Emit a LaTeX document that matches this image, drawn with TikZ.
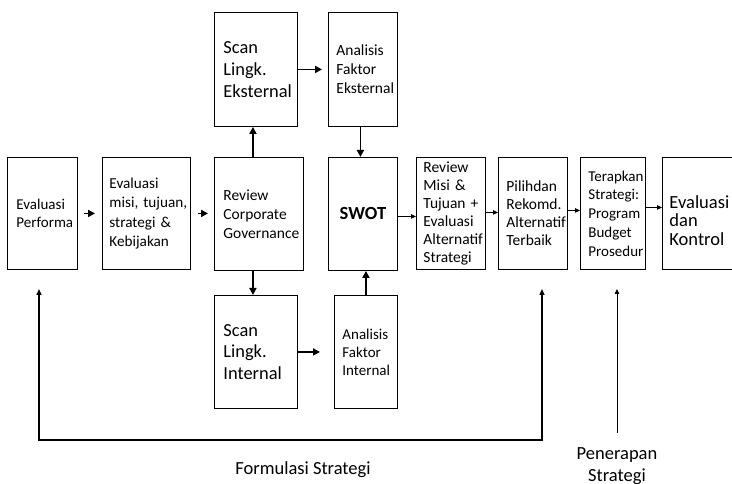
\documentclass[tikz,border=0pt]{standalone}
\usepackage{fontspec}
\setmainfont{Carlito}
\usetikzlibrary{arrows.meta,calc}
\begin{document}
\begin{tikzpicture}[x=1pt,y=-1pt,
  box/.style={draw=black, line width=0.9pt, inner ysep=0pt, align=left,
    anchor=north west,
    execute at begin node={\hyphenpenalty=10000\exhyphenpenalty=10000}},
  thk/.style={line width=1.8pt, -{Triangle[length=7pt,width=7pt]}},
  thn/.style={line width=0.8pt, -{Triangle[length=5pt,width=4.5pt]}},
  fb/.style={line width=1.4pt},
  lbl/.style={font=\fontsize{18.5}{22}\selectfont, align=center}]
\clip (0,0) rectangle (732,484);

% main row of process steps
\node[box, inner xsep=9pt, text width=52pt, minimum height=112pt,
  font=\fontsize{15}{18}\selectfont] (perf) at (7,157) {Evaluasi\\Performa};
\node[box, inner xsep=7pt, text width=74pt, minimum height=112pt,
  font=\fontsize{15.2}{19.5}\selectfont] (evm) at (102,157)
  {Evaluasi\\misi,~tujuan,\\strategi~\&\\Kebijakan};
\node[box, inner xsep=9pt, text width=71pt, minimum height=113pt,
  font=\fontsize{15.5}{19}\selectfont] (rcg) at (214,157)
  {Review\\Corporate\\Governance};
\node[box, inner xsep=0pt, minimum width=69pt, minimum height=113pt, align=center,
  font=\fontsize{18.5}{22}\selectfont\bfseries] (swot) at (328,157) {SWOT};
\node[box, inner xsep=7pt, text width=55pt, minimum height=112pt,
  font=\fontsize{15.5}{18}\selectfont] (rms) at (416,157)
  {Review\\Misi~\&\\Tujuan~+\\Evaluasi\\Alternatif\\Strategi};
\node[box, inner xsep=8pt, text width=53pt, minimum height=112pt,
  font=\fontsize{15.5}{18}\selectfont] (pil) at (498,157)
  {Pilihdan\\Rekomd.\\Alternatif\\Terbaik};
\node[box, inner xsep=8pt, text width=49pt, minimum height=112pt,
  font=\fontsize{15}{18.75}\selectfont] (ter) at (580,157)
  {Terapkan\\Strategi:\\Program\\Budget\\Prosedur};
\node[box, inner xsep=7pt, text width=66pt, minimum height=112pt,
  font=\fontsize{18.5}{18.5}\selectfont] (evk) at (662,157)
  {\rule{0pt}{27pt}Evaluasi\\dan\\Kontrol};

% external branch
\node[box, inner xsep=9pt, text width=65pt, minimum height=114pt,
  font=\fontsize{18.4}{21.7}\selectfont] (scanE) at (214,12)
  {Scan\\Lingk.\\Eksternal};
\node[box, inner xsep=8pt, text width=53pt, minimum height=114pt,
  font=\fontsize{15.5}{19}\selectfont] (anaE) at (328,12)
  {Analisis\\Faktor\\Eksternal};

% internal branch
\node[box, inner xsep=9pt, text width=65pt, minimum height=113pt,
  font=\fontsize{18.4}{21.7}\selectfont] (scanI) at (214,295)
  {Scan\\Lingk.\\Internal};
\node[box, inner xsep=8pt, text width=47pt, minimum height=113pt,
  font=\fontsize{15}{18}\selectfont] (anaI) at (334,295)
  {Analisis\\Faktor\\Internal};

% connectors of the main row
\draw[thk, shorten <=6pt, shorten >=7pt] (perf) -- (evm);
\draw[thk, shorten <=7pt, shorten >=6pt] (evm.east) -- (evm.east -| rcg.west);
\draw[thn] ([yshift=-2.5pt]swot.east) -- ([yshift=-2.5pt]swot.east -| rms.west);
\draw[thn] ([yshift=1pt]rms.east) -- ([yshift=1pt]rms.east -| pil.west);
\draw[thn] ([yshift=3pt]pil.east) -- ([yshift=3pt]pil.east -| ter.west);
\draw[thn] ([yshift=6pt]ter.east) -- ([yshift=6pt]ter.east -| evk.west);

% branch connectors
\draw[thk] ([xshift=-6pt]rcg.north) -- ([xshift=-6pt]rcg.north |- scanE.south);
\draw[thk] ([xshift=-6pt]rcg.south) -- ([xshift=-6pt]rcg.south |- scanI.north);
\draw[thk, shorten >=6pt] (scanE.east) -- (scanE.east -| anaE.west);
\draw[thk, shorten >=14pt] (scanI.east) -- (scanI.east -| anaI.west);
\draw[thk] ([xshift=-2.5pt]anaE.south) -- ([xshift=-2.5pt]anaE.south |- swot.north);
\draw[thk] (anaI.north) -- (anaI.north |- swot.south);

% feedback loop of the formulation phase
\coordinate (fbLt) at (39,289);
\coordinate (fbL) at (39,440);
\coordinate (fbR) at (542,440);
\coordinate (fbRt) at (542,289);
\draw[fb, {Triangle[length=6pt,width=5pt]}-{Triangle[length=6pt,width=5pt]}]
  (fbLt) -- (fbL) -- (fbR) -- (fbRt);

% implementation phase pointer
\coordinate (penB) at (617,433);
\coordinate (penT) at (617,289);
\draw[thn] (penB) -- (penT);

\node[lbl] (formulasi) at (303,470) {Formulasi Strategi};
\node[lbl] (penerapan) at (617,466) {Penerapan\\Strategi};
\end{tikzpicture}
\end{document}
